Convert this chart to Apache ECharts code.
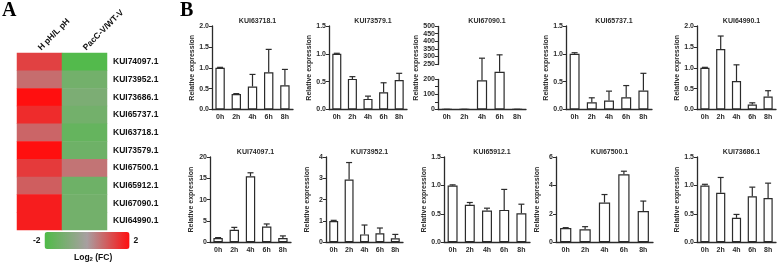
<!DOCTYPE html>
<html>
<head>
<meta charset="utf-8">
<script src="https://cdn.jsdelivr.net/npm/echarts@6.0.0/dist/echarts.min.js"></script>
<style>
  html, body { margin: 0; padding: 0; background: #fff; }
  #main { width: 778px; height: 264px; }
</style>
</head>
<body>
<div id="main"></div>
<script>
// ---- panel A: heatmap (log2 fold change) ----
var genes = ['KUI74097.1', 'KUI73952.1', 'KUI73686.1', 'KUI65737.1', 'KUI63718.1',
             'KUI73579.1', 'KUI67500.1', 'KUI65912.1', 'KUI67090.1', 'KUI64990.1'];
var heatCols = ['H pH/L pH', 'PacC-V/WT-V'];
var phFC   = [1.3, 0.7, 2.0, 1.6, 0.8, 2.0, 1.4, 0.9, 1.8, 1.8];
var paccFC = [-1.9, -1.2, -1.0, -1.2, -1.5, -1.3, 0.6, -1.3, -1.2, -1.2];

// ---- panel B: qRT-PCR relative expression (mean, SD) ----
var hours = ['0h', '2h', '4h', '6h', '8h'];

var kui63718 = [1.0, 0.37, 0.55, 0.89, 0.58];
var kui63718Sd = [0.01, 0.01, 0.29, 0.55, 0.38];
var kui73579 = [1.0, 0.55, 0.19, 0.31, 0.53];
var kui73579Sd = [0.01, 0.04, 0.05, 0.17, 0.12];
var kui67090 = [1, 1, 193, 224, 1];
var kui67090Sd = [0, 0, 95, 86, 0];
var kui65737 = [1.0, 0.13, 0.16, 0.22, 0.34];
var kui65737Sd = [0.02, 0.08, 0.17, 0.21, 0.31];
var kui64990 = [1.0, 1.45, 0.68, 0.12, 0.31];
var kui64990Sd = [0.01, 0.31, 0.39, 0.04, 0.14];
var kui74097 = [1.0, 2.96, 15.5, 3.7, 1.0];
var kui74097Sd = [0.1, 0.54, 0.8, 0.6, 0.5];
var kui73952 = [1.0, 2.94, 0.37, 0.42, 0.19];
var kui73952Sd = [0.03, 0.8, 0.44, 0.25, 0.18];
var kui65912 = [1.0, 0.66, 0.56, 0.57, 0.51];
var kui65912Sd = [0.01, 0.04, 0.04, 0.36, 0.16];
var kui67500 = [1.0, 0.91, 2.8, 4.79, 2.2];
var kui67500Sd = [0.03, 0.19, 0.56, 0.21, 0.7];
var kui73686 = [1.0, 0.87, 0.43, 0.81, 0.78];
var kui73686Sd = [0.02, 0.27, 0.06, 0.16, 0.26];

var panels = [
  { name: 'KUI63718.1', mean: kui63718, sd: kui63718Sd, max: 2, step: 0.5 },
  { name: 'KUI73579.1', mean: kui73579, sd: kui73579Sd, max: 1.5, step: 0.5 },
  { name: 'KUI67090.1', mean: kui67090, sd: kui67090Sd, max: 500, step: 50, cut: [200, 250] },
  { name: 'KUI65737.1', mean: kui65737, sd: kui65737Sd, max: 1.5, step: 0.5 },
  { name: 'KUI64990.1', mean: kui64990, sd: kui64990Sd, max: 2, step: 0.5 },
  { name: 'KUI74097.1', mean: kui74097, sd: kui74097Sd, max: 20, step: 5 },
  { name: 'KUI73952.1', mean: kui73952, sd: kui73952Sd, max: 4, step: 1 },
  { name: 'KUI65912.1', mean: kui65912, sd: kui65912Sd, max: 1.5, step: 0.5 },
  { name: 'KUI67500.1', mean: kui67500, sd: kui67500Sd, max: 6, step: 2 },
  { name: 'KUI73686.1', mean: kui73686, sd: kui73686Sd, max: 1.5, step: 0.5 }
];

// grid boxes [left, top, width, height] for the ten small charts
var boxes = [
  [212, 26, 81, 83.5], [329, 26, 78, 83.5], [438, 26, 88, 83.5], [566, 26, 86, 83.5], [697, 26, 79, 83.5],
  [210, 157, 81, 85.3], [326, 157, 77, 85.3], [444, 157, 86, 85.3], [556, 157, 97, 85.3], [697, 157, 79, 85.3]
];

var FONT = 'Liberation Sans';
var INK = '#2b2b2b';

var dom = document.getElementById('main');
var myChart = echarts.init(dom, null, { renderer: 'canvas' });

var heatData = [];
for (var i = 0; i < genes.length; i++) {
  heatData.push([0, i, phFC[i]]);
  heatData.push([1, i, paccFC[i]]);
}

var grids = [{ left: 17, top: 53, width: 90, height: 177 }];
var xAxes = [{
  type: 'category', gridIndex: 0, data: heatCols, position: 'top',
  axisLine: { show: false }, axisTick: { show: false }, splitArea: { show: false },
  axisLabel: { rotate: -45, margin: 4, color: '#111', fontFamily: FONT, fontWeight: 'bold', fontSize: 8.5 }
}];
var yAxes = [{
  type: 'category', gridIndex: 0, data: genes, inverse: true, position: 'right',
  axisLine: { show: false }, axisTick: { show: false },
  axisLabel: { margin: 6, color: '#111', fontFamily: FONT, fontWeight: 'bold', fontSize: 8.5 }
}];
var titles = [];
var series = [{
  type: 'heatmap', xAxisIndex: 0, yAxisIndex: 0, data: heatData,
  itemStyle: { borderWidth: 0 }, emphasis: { disabled: true }
}];

function errorBar(params, api) {
  var x = api.value(0);
  var p0 = api.coord([x, api.value(1)]);
  var p1 = api.coord([x, api.value(2)]);
  var w = 3;
  var st = { stroke: INK, lineWidth: 1.2 };
  return {
    type: 'group',
    children: [
      { type: 'line', shape: { x1: p0[0], y1: p0[1], x2: p1[0], y2: p1[1] }, style: st },
      { type: 'line', shape: { x1: p1[0] - w, y1: p1[1], x2: p1[0] + w, y2: p1[1] }, style: st }
    ]
  };
}

panels.forEach(function (p, k) {
  var b = boxes[k];
  var gi = k + 1;
  grids.push({ left: b[0], top: b[1], width: b[2], height: b[3] });
  titles.push({
    text: p.name, left: b[0] + b[2] / 2, top: b[1] - 13, textAlign: 'center',
    textStyle: { fontFamily: FONT, fontWeight: 'bold', fontSize: 7, color: INK }
  });
  xAxes.push({
    type: 'category', gridIndex: gi, data: hours,
    axisLine: { lineStyle: { color: INK, width: 1.3 } },
    axisTick: { alignWithLabel: true, length: 2, lineStyle: { color: INK } },
    axisLabel: { margin: 4, color: INK, fontFamily: FONT, fontWeight: 'bold', fontSize: 7 }
  });
  var y = {
    type: 'value', gridIndex: gi, min: 0, max: p.max, interval: p.step,
    name: 'Relative expression', nameLocation: 'middle', nameGap: 15,
    nameTextStyle: { fontFamily: FONT, fontWeight: 'bold', fontSize: 7, color: INK },
    axisLine: { show: true, lineStyle: { color: INK, width: 1.3 } },
    axisTick: { show: true, length: 3, lineStyle: { color: INK } },
    splitLine: { show: false },
    axisLabel: {
      margin: 3, color: INK, fontFamily: FONT, fontWeight: 'bold', fontSize: 7,
      formatter: function (v) { return p.step < 1 ? Number(v).toFixed(1) : String(v); }
    }
  };
  if (p.cut) {
    y.breaks = [{ start: p.cut[0], end: p.cut[1], gap: 100 }];
    y.breakArea = { show: true, zigzagAmplitude: 0, itemStyle: { color: '#fff', borderWidth: 0, opacity: 0 } };
    y.axisLabel.formatter = function (v) { return (v === 50 || v === 150) ? '' : String(v); };
  }
  yAxes.push(y);
  series.push({
    type: 'bar', xAxisIndex: gi, yAxisIndex: gi, data: p.mean, barWidth: '58%',
    itemStyle: { color: '#fff', borderColor: INK, borderWidth: 1.2 },
    emphasis: { disabled: true }, z: 2
  });
  series.push({
    type: 'custom', xAxisIndex: gi, yAxisIndex: gi, renderItem: errorBar, z: 3,
    data: p.mean.map(function (m, j) { return [j, m, m + p.sd[j]]; })
  });
});

var option = {
  animation: false,
  textStyle: { fontFamily: FONT },
  title: titles,
  grid: grids,
  xAxis: xAxes,
  yAxis: yAxes,
  visualMap: {
    type: 'continuous', seriesIndex: 0, min: -2, max: 2, calculable: false,
    orient: 'horizontal', left: 28, top: 227, itemWidth: 17, itemHeight: 85,
    text: ['2', '-2'], textGap: 4, padding: 5,
    textStyle: { fontFamily: FONT, fontWeight: 'bold', fontSize: 8.5, color: '#111' },
    inRange: { color: ['#4fbb47', '#a89fa1', '#ff0f0f'] }
  },
  graphic: [
    { type: 'text', left: 2, top: 1, style: { text: 'A', font: 'bold 20px "Liberation Serif"', fill: '#000' } },
    { type: 'text', left: 180, top: 1, style: { text: 'B', font: 'bold 20px "Liberation Serif"', fill: '#000' } },
    {
      type: 'text', left: 74, top: 253,
      style: {
        text: 'Log{s|2} (FC)', fill: '#111', font: 'bold 8.5px "Liberation Sans"',
        rich: { s: { fontSize: 6, fontWeight: 'bold', fontFamily: FONT, verticalAlign: 'bottom', padding: [4, 0, 0, 0] } }
      }
    }
  ],
  series: series
};

myChart.setOption(option);
window.addEventListener('resize', myChart.resize);
</script>
</body>
</html>
